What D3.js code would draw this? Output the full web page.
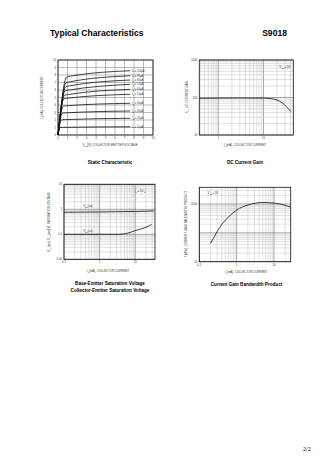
<!DOCTYPE html>
<html><head><meta charset="utf-8">
<script src="https://cdnjs.cloudflare.com/ajax/libs/d3/7.8.5/d3.min.js"></script>
<style>
html,body{margin:0;padding:0;background:#fff;}
svg{display:block;font-family:"Liberation Sans",Arial,sans-serif;}
</style></head><body>
<svg id="c" width="336" height="475"></svg>
<script>
// ---------- DATA ----------
// Static Characteristic (IC[mA] vs VCE[V])
const vceTicks = [0,1,2,3,4,5,6,7,8,9,10];
const icTicks = [0,1,2,3,4,5,6,7,8,9,10];
const ibLabels = ["I_{B} = 100\u00b5A","I_{B} = 90\u00b5A","I_{B} = 80\u00b5A","I_{B} = 70\u00b5A","I_{B} = 60\u00b5A","I_{B} = 50\u00b5A","I_{B} = 40\u00b5A","I_{B} = 30\u00b5A","I_{B} = 20\u00b5A","I_{B} = 10\u00b5A"];
const ib100 = [[0,0],[0.9,7.7],[1.3,7.85],[7.6,8.57]];
const ib90  = [[0,0],[0.85,6.95],[1.3,7.1],[7.6,7.9]];
const ib80  = [[0,0],[0.8,6.4],[1.2,6.55],[7.6,7.33]];
const ib70  = [[0,0],[0.75,5.9],[1.2,6.0],[7.6,6.76]];
const ib60  = [[0,0],[0.7,5.3],[1.1,5.4],[7.6,6.09]];
const ib50  = [[0,0],[0.6,4.8],[1.0,4.9],[7.6,5.43]];
const ib40  = [[0,0],[0.55,3.85],[0.9,3.9],[7.6,4.23]];
const ib30  = [[0,0],[0.45,2.9],[0.8,2.95],[7.6,3.2]];
const ib20  = [[0,0],[0.35,2.0],[0.7,2.05],[7.6,2.23]];
const ib10  = [[0,0],[0.25,1.0],[0.6,1.02],[7.6,1.1]];
const staticCurves = [ib100,ib90,ib80,ib70,ib60,ib50,ib40,ib30,ib20,ib10];

// DC Current Gain (hFE vs IC[mA])
const hfeIc = [0.38, 1, 3, 10, 14, 20, 26, 32, 40.6];
const hfe   = [95, 96, 96.5, 96, 94, 86, 72, 58, 42];

// Saturation voltage (V vs IC[mA])
const satIc  = [0.1, 0.3, 1, 3, 10, 20, 33];
const vbeSat = [0.76, 0.77, 0.78, 0.8, 0.82, 0.84, 0.86];
const vceIc  = [0.1, 1, 3.6, 6, 10, 20, 29];
const vceSat = [0.1, 0.1, 0.1, 0.11, 0.14, 0.19, 0.25];

// Current Gain Bandwidth Product (fT[MHz] vs IC[mA])
const ftIc = [0.2, 0.3, 0.42, 0.6, 1, 2, 5, 10, 20, 27];
const ft   = [43, 110, 215, 350, 620, 920, 1130, 1080, 900, 780];

// ---------- DRAW ----------
const svg = d3.select("#c");
const gridCol = "#a8a8a8";

// rich text: "_{X}" -> subscript (dy shift, restored on following tspan)
function rich(sel, str, fs){
  const parts = str.split(/(_\{[^}]*\})/).filter(p=>p);
  let shifted = false;
  parts.forEach(p=>{
    if(p.startsWith("_{")){
      sel.append("tspan").attr("font-size",fs*0.7).attr("dy",fs*0.25).text(p.slice(2,-1));
      shifted = true;
    } else {
      const t = sel.append("tspan").text(p);
      if(shifted){ t.attr("dy",-fs*0.25); shifted=false; }
    }
  });
  return sel;
}

svg.append("text").attr("x",50).attr("y",36).attr("font-size",8.6).attr("font-weight","bold").text("Typical Characteristics");
svg.append("text").attr("x",287).attr("y",36).attr("text-anchor","end").attr("font-size",8.6).attr("font-weight","bold").text("S9018");
svg.append("text").attr("x",303).attr("y",451).attr("font-size",6.2).attr("font-family","'Liberation Serif',serif").text("2/2");

function frame(g,x0,y0,w,h){
  g.append("rect").attr("x",x0).attr("y",y0).attr("width",w).attr("height",h).attr("fill","none").attr("stroke","#111").attr("stroke-width",0.8);
}
function vline(g,x,y0,y1,sw,col){g.append("line").attr("x1",x).attr("x2",x).attr("y1",y0).attr("y2",y1).attr("stroke",col||gridCol).attr("stroke-width",sw);}
function hline(g,y,x0,x1,sw,col){g.append("line").attr("y1",y).attr("y2",y).attr("x1",x0).attr("x2",x1).attr("stroke",col||gridCol).attr("stroke-width",sw);}
function logMinor(dom){
  const out=[]; const a=Math.floor(Math.log10(dom[0])), b=Math.ceil(Math.log10(dom[1]));
  for(let e=a;e<=b;e++){for(let m=1;m<10;m++){const v=m*Math.pow(10,e); if(v>=dom[0]*0.999&&v<=dom[1]*1.001) out.push({v,major:m===1});}}
  return out;
}
function small(g,x,y,t,anchor,fs){
  fs=fs||3;
  const s=g.append("text").attr("x",x).attr("y",y).attr("text-anchor",anchor||"middle").attr("font-size",fs).attr("fill","#333");
  return rich(s,String(t),fs);
}
function title(g,x,y,t){return g.append("text").attr("x",x).attr("y",y).attr("text-anchor","middle").attr("font-size",4.6).attr("font-weight","bold").text(t);}
function ytitle(g,x,y,t){
  const fs=2.9;
  const s=g.append("text").attr("transform",`translate(${x},${y}) rotate(-90)`).attr("text-anchor","middle").attr("font-size",fs).attr("fill","#333");
  return rich(s,t,fs);
}

// Panel 1: Static Characteristic
{
  const g = svg.append("g");
  const L=58,R=153,T=60,B=135;
  const x=d3.scaleLinear().domain([0,10]).range([L,R]);
  const y=d3.scaleLinear().domain([0,10]).range([B,T]);
  vceTicks.forEach(v=>vline(g,x(v),T,B,0.5,"#777"));
  icTicks.forEach(v=>hline(g,y(v),L,R,0.5,"#777"));
  frame(g,L,T,R-L,B-T);
  icTicks.forEach(v=>small(g,L-2,y(v)+1,v,"end",2.8));
  vceTicks.forEach(v=>small(g,x(v),B+4,v,"middle",2.8));
  const line=d3.line().x(d=>x(d[0])).y(d=>y(d[1])).curve(d3.curveMonotoneX);
  staticCurves.forEach((c,i)=>{
    g.append("path").attr("d",line(c)).attr("fill","none").attr("stroke","#111").attr("stroke-width",0.8);
    small(g,x(7.8),y(c[c.length-1][1])+1,ibLabels[i],"start",2.6);
  });
  ytitle(g,43,(T+B)/2,"I_{C}[mA], COLLECTOR CURRENT");
  small(g,110,146,"V_{CE}[V], COLLECTOR-EMITTER VOLTAGE","middle",2.9);
  title(g,110,164,"Static Characteristic");
}

function logPanel(opt){
  const g=svg.append("g");
  const {L,R,T,B,xd,yd}=opt;
  const x=d3.scaleLog().domain(xd).range([L,R]);
  const y=d3.scaleLog().domain(yd).range([B,T]);
  logMinor(xd).forEach(t=>vline(g,x(t.v),T,B,t.major?0.6:0.35,t.major?"#666":gridCol));
  logMinor(yd).forEach(t=>hline(g,y(t.v),L,R,t.major?0.6:0.35,t.major?"#666":gridCol));
  frame(g,L,T,R-L,B-T);
  opt.xl.forEach(v=>small(g,x(v),B+4,v,"middle",2.8));
  opt.yl.forEach(v=>small(g,L-2,y(v)+1,v,"end",2.8));
  const line=d3.line().x(d=>x(d[0])).y(d=>y(d[1])).curve(d3.curveMonotoneX);
  opt.series.forEach(s=>{
    g.append("path").attr("d",line(s)).attr("fill","none").attr("stroke","#111").attr("stroke-width",0.8);
  });
  return {g,x,y};
}

// Panel 2: DC Current Gain
{
  const p=logPanel({L:199.3,R:293.3,T:60,B:135,xd:[0.38,46],yd:[10,1000],
    xl:[1,10],yl:[10,100,1000],series:[hfeIc.map((v,i)=>[v,hfe[i]])]});
  small(p.g,285,68,"V_{CE} = 5V","middle",2.7);
  ytitle(p.g,188,97,"h_{FE}, DC CURRENT GAIN");
  small(p.g,245,146,"I_{C}[mA], COLLECTOR CURRENT","middle",2.9);
  title(p.g,245,164,"DC Current Gain");
}

// Panel 3: Saturation Voltage
{
  const p=logPanel({L:64,R:155,T:184.3,B:259.3,xd:[0.1,36],yd:[0.01,10],
    xl:[0.1,1,10],yl:[0.01,0.1,1,10],series:[satIc.map((v,i)=>[v,vbeSat[i]]),vceIc.map((v,i)=>[v,vceSat[i]])]});
  small(p.g,140,192,"I_{C} = 10 I_{B}","middle",2.7);
  small(p.g,88,207,"V_{BE}(sat)","middle",2.6);
  small(p.g,88,232,"V_{CE}(sat)","middle",2.6);
  ytitle(p.g,50,222,"V_{BE}(sat), V_{CE}(sat)[V], SATURATION VOLTAGE");
  small(p.g,108,272,"I_{C}[mA], COLLECTOR CURRENT","middle",2.9);
  title(p.g,110,285,"Base-Emitter Saturation Voltage");
  title(p.g,110,291.5,"Collector-Emitter Saturation Voltage");
}

// Panel 4: Current Gain Bandwidth Product
{
  const p=logPanel({L:199.3,R:290.7,T:187.3,B:261.7,xd:[0.1,28],yd:[10,3800],
    xl:[0.1,1,10],yl:[10,1000],series:[ftIc.map((v,i)=>[v,ft[i]])]});
  small(p.g,213,194,"V_{CE} = 5V","middle",2.7);
  ytitle(p.g,186.5,224,"f_{T}[MHz], CURRENT GAIN BANDWIDTH PRODUCT");
  small(p.g,246,273,"I_{C}[mA], COLLECTOR CURRENT","middle",2.9);
  title(p.g,246.5,286,"Current Gain Bandwidth Product");
}
</script>
</body></html>
